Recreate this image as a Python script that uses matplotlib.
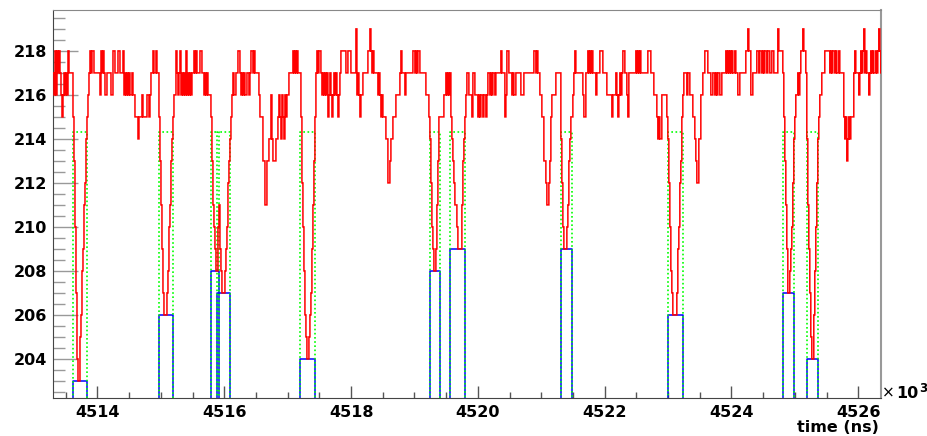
import numpy as np
import matplotlib
matplotlib.use("Agg")
import matplotlib.pyplot as plt
from matplotlib.ticker import MultipleLocator, FormatStrFormatter

# digitizer trace (ADC counts), one sample every dt_ns starting at t0_ns
t0_ns = 4513298
dt_ns = 15.77
adc = [
    217, 216, 218, 216, 218, 217, 218, 217, 216, 215, 216, 217, 216, 217, 216, 218, 217, 217, 217, 217,
    215, 213, 210, 207, 204, 203, 203, 205, 206, 208, 209, 211, 212, 214, 215, 216,
    217, 218, 217, 218, 218, 217, 217, 217, 217, 217, 217, 216, 218, 217, 218, 217, 216, 216, 217, 217,
    217, 217, 216, 216, 218, 218, 217, 217, 217, 218, 218, 217, 217, 217, 218, 216, 217, 216, 217, 216,
    217, 216, 216, 217, 216, 216, 215, 215, 215, 214, 215, 215, 215, 216, 215, 215, 215, 215, 216, 216,
    215, 216, 217, 217, 218, 217, 217, 218, 217, 217,
    215, 213, 211, 209, 207, 206, 206, 206, 207, 208, 210, 211, 213, 214, 215,
    216, 216, 218, 217, 216, 217, 218, 216, 217, 216, 217, 216, 218, 216, 217, 216, 217, 216, 217, 217,
    218, 217, 218, 217, 217, 217, 218, 218, 217, 217, 216, 217, 216, 217, 216, 216, 216,
    215, 213, 211, 210, 209, 208, 208, 210, 211, 209, 208, 207, 207, 207, 208, 209, 210, 212, 213, 214, 215, 216,
    217, 216, 216, 217, 217, 218, 218, 217, 216, 217, 216, 217, 216, 216, 217, 217, 216, 217, 218, 218,
    217, 218, 217, 217, 217, 217, 216, 215, 215, 215, 213, 213, 211, 211, 213, 213, 214, 214, 216, 214,
    213, 213, 213, 214, 214, 215, 216, 215, 214, 216, 215, 214, 216, 215, 216, 216, 217, 217, 217, 217,
    218, 217, 218, 217, 218, 217, 217, 217,
    215, 212, 210, 208, 206, 205, 204, 204, 205, 206, 207, 209, 211, 213, 215, 217,
    218, 217, 218, 218, 217, 216, 217, 216, 217, 216, 217, 215, 216, 217, 216, 215, 216, 217, 216, 217,
    216, 215, 216, 217, 218, 218, 218, 218, 218, 217, 217, 218, 218, 218, 217, 217, 217, 217, 217, 219,
    216, 217, 216, 215, 216, 216, 217, 217, 217, 217, 217, 218, 218, 219, 218, 217, 218, 217, 217, 217,
    217, 216, 217, 216, 215, 216, 215, 215, 215, 214, 214, 212, 212, 213, 214, 214, 215, 215, 215, 216,
    216, 216, 216, 217, 218, 217, 217, 217, 216, 217, 217, 217, 217, 217, 217, 217, 218, 218, 217, 218,
    217, 218, 218, 217, 217, 217, 217, 217, 217, 216, 216, 216, 215,
    214, 212, 210, 209, 208, 208, 209, 211, 213, 215, 215, 215, 215, 215, 216, 216, 217, 216, 217, 216, 217,
    215, 214, 213, 212, 211, 211, 210, 209, 209, 209, 209, 211, 213, 214, 215, 216, 217,
    217, 216, 216, 216, 215, 217, 217, 216, 216, 216, 215, 216, 215, 216, 216, 215, 216, 216, 215, 216,
    217, 217, 216, 217, 216, 217, 217, 216, 217, 217, 217, 217, 217, 218, 217, 217, 217, 215, 216, 218,
    218, 217, 217, 217, 216, 217, 216, 216, 217, 217, 217, 217, 217, 216, 216, 216, 217, 217, 217, 217,
    217, 217, 217, 217, 217, 217, 218, 218, 217, 218, 217, 217, 216, 216, 215, 215, 213, 213, 212, 211,
    211, 212, 213, 215, 216, 216, 216, 216, 217, 217, 217, 217, 217,
    214, 212, 210, 209, 209, 209, 210, 211, 213, 214, 215, 215, 216, 217,
    218, 217, 217, 217, 217, 217, 217, 217, 216, 215, 215, 217, 217, 218, 217, 218, 217, 218, 217, 217,
    217, 216, 217, 217, 217, 218, 218, 218, 217, 217, 217, 217, 216, 216, 216, 216, 216, 215, 216, 216,
    216, 217, 216, 215, 216, 217, 216, 217, 218, 218, 217, 217, 216, 215, 217, 217, 217, 217, 217, 217,
    217, 218, 217, 218, 217, 218, 217, 217, 217, 217, 217, 217, 217, 218, 218, 218, 217, 217, 217, 216,
    216, 216, 215, 214, 215, 214, 214, 216, 216, 216, 216, 216, 215,
    214, 212, 210, 208, 207, 206, 206, 206, 206, 207, 209, 210, 212, 213, 215, 216, 217,
    217, 217, 216, 217, 217, 216, 216, 216, 215, 215, 214, 213, 212, 212, 214, 214, 216, 216, 217, 217,
    218, 218, 218, 217, 217, 217, 216, 216, 217, 217, 216, 217, 216, 217, 217, 216, 216, 217, 217, 217,
    217, 218, 217,
    218, 217, 218, 217, 218, 217, 217, 218, 217, 217, 216, 216, 217, 217, 217, 217, 217, 217, 218, 218,
    219, 218, 218, 216, 216, 217, 217, 217, 217, 218, 218, 217, 218, 218, 217, 218, 217, 218, 218, 217,
    218, 218, 217, 217, 218, 218, 217, 217, 217, 217, 219, 218, 218, 218, 218,
    217, 215, 213, 211, 209, 207, 207, 208, 209, 210, 212, 214, 215, 216, 216, 217, 216, 217, 218, 218, 219, 218, 218,
    217, 214, 211, 209, 207, 205, 204, 204, 206, 208, 210, 212, 214, 215, 216, 216, 217,
    217, 217, 218, 218, 218, 218, 218, 217, 218, 217, 218, 218, 217, 218, 217, 217, 218, 217, 217, 217,
    217, 215, 214, 215, 213, 214, 215, 214, 215, 215, 215, 217, 218, 217, 217, 217, 216, 217, 218, 217,
    218, 219, 217, 218, 217, 217, 216, 217, 218, 217, 218, 217, 217, 218, 217, 218, 219, 218, 217,
]

# found pulses: window (x10^3 ns) and minimum ADC value
pulse_start = [4513.618, 4514.975, 4515.790, 4515.890, 4517.199, 4519.245, 4519.565, 4521.311, 4523.003, 4524.812, 4525.186]
pulse_stop = [4513.827, 4515.186, 4515.921, 4516.090, 4517.435, 4519.400, 4519.797, 4521.479, 4523.230, 4524.990, 4525.369]
pulse_min = [203, 206, 208, 207, 204, 208, 209, 209, 206, 207, 204]
gate_top = 214.3

plt.rcParams['font.family'] = ['DejaVu Sans']
plt.rcParams['font.weight'] = 'bold'

fig = plt.figure(figsize=(9.28, 4.36), dpi=100)
ax = fig.add_axes([0.0571, 0.0865, 0.8922, 0.8906])

xlo, xhi = 4513.298, 4526.358
ylo, yhi = 202.21, 219.86
ybot = 200

edges = (t0_ns + dt_ns * np.arange(len(adc) + 1)) / 1000.0
ax.stairs(adc, edges, baseline=None, color='#ff0000', lw=1.1, zorder=3)

for s, e, m in zip(pulse_start, pulse_stop, pulse_min):
    ax.plot([s, s, e, e], [ybot, m, m, ybot], color='#0000ff', lw=1.1, zorder=2)
    ax.plot([s, s, e, e], [ybot, gate_top, gate_top, ybot], color='#00ff00',
            lw=1.2, ls=(0, (1, 1.5)), zorder=2.5)

ax.set_xlim(xlo, xhi)
ax.set_ylim(ylo, yhi)

ax.xaxis.set_major_locator(MultipleLocator(2))
ax.xaxis.set_minor_locator(MultipleLocator(0.5))
ax.yaxis.set_major_locator(MultipleLocator(2))
ax.yaxis.set_minor_locator(MultipleLocator(0.5))
ax.xaxis.set_major_formatter(FormatStrFormatter('%d'))
ax.yaxis.set_major_formatter(FormatStrFormatter('%d'))

ax.tick_params(axis='y', which='major', direction='in', length=18, width=1,
               color='#999999', pad=4.3, labelsize=11.5)
ax.tick_params(axis='y', which='minor', direction='in', length=8.6, width=1, color='#999999')
ax.tick_params(axis='x', which='major', direction='in', length=8.6, width=1,
               color='#555555', pad=5, labelsize=11.5)
ax.tick_params(axis='x', which='minor', direction='in', length=4.3, width=1, color='#555555')

for lab in ax.get_xticklabels() + ax.get_yticklabels():
    lab.set_fontweight('bold')

ax.spines['left'].set_color('#444444')
ax.spines['bottom'].set_color('#444444')
ax.spines['top'].set_color('#888888')
ax.spines['right'].set_color('#999999')
ax.spines['right'].set_linewidth(1.5)

fig.text(879 / 928, 1 - 431.5 / 436, 'time (ns)', ha='right', va='baseline',
         fontsize=11.5, fontweight='bold')
fig.text(882 / 928, 1 - 397 / 436, '\u00d7', ha='left', va='baseline',
         fontsize=11, fontweight='normal')
fig.text(896.5 / 928, 1 - 397.5 / 436, '10', ha='left', va='baseline',
         fontsize=11.5, fontweight='bold')
fig.text(919.5 / 928, 1 - 392 / 436, '3', ha='left', va='baseline',
         fontsize=8.5, fontweight='bold')

fig.savefig('out.png', dpi=100)
